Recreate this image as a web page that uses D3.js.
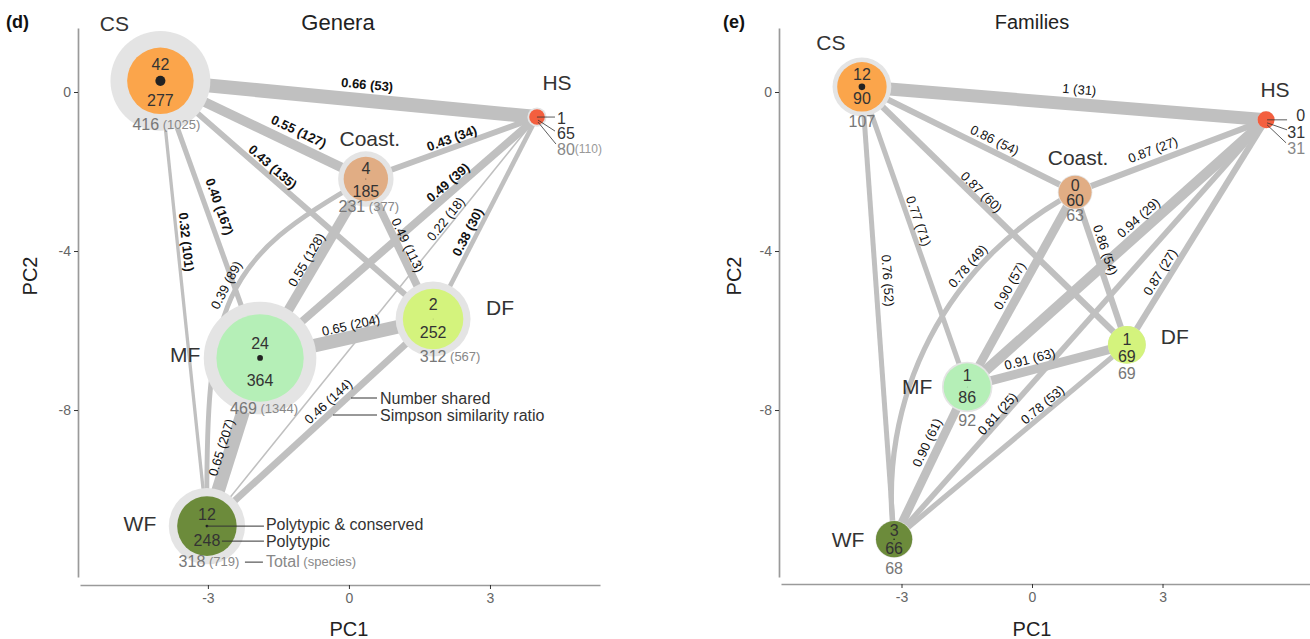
<!DOCTYPE html>
<html>
<head>
<meta charset="utf-8">
<script src="https://cdn.jsdelivr.net/npm/d3@7"></script>
<style>
  body { margin: 0; background: #fff; }
  svg text { font-family: "Liberation Sans", Arial, Helvetica, sans-serif; }
</style>
</head>
<body>
<svg id="chart" width="1310" height="639"></svg>
<script>
// --- DATA ---
const regions = ["CS", "HS", "Coast.", "DF", "MF", "WF"];

// (d) Genera
const generaPC1 = [-4.01, 4.00, 0.36, 1.79, -1.89, -3.02];
const generaPC2 = [0.28, -0.63, -2.19, -5.71, -6.69, -10.92];
const generaConserved = [42, 1, 4, 2, 24, 12];
const generaPolytypic = [277, 65, 185, 252, 364, 248];
const generaTotal = [416, 80, 231, 312, 469, 318];
const generaSpecies = [1025, 110, 377, 567, 1344, 719];

// (e) Families
const familiesPC1 = [-3.91, 5.38, 0.99, 2.18, -1.49, -3.17];
const familiesPC2 = [0.13, -0.70, -2.52, -6.36, -7.42, -11.25];
const familiesConserved = [12, 0, 0, 1, 1, 3];
const familiesPolytypic = [90, 31, 60, 69, 86, 66];
const familiesTotal = [107, 31, 63, 69, 92, 68];

// region pairs (same order in both panels)
const edgeFrom = ["CS", "CS", "CS", "CS", "CS", "Coast.", "MF", "DF", "WF", "Coast.", "MF", "MF", "WF", "WF", "Coast."];
const edgeTo   = ["HS", "Coast.", "DF", "MF", "WF", "HS", "HS", "HS", "HS", "DF", "Coast.", "DF", "DF", "MF", "WF"];

const generaRatio  = [0.66, 0.55, 0.43, 0.40, 0.32, 0.43, 0.49, 0.38, 0.22, 0.49, 0.55, 0.65, 0.46, 0.65, 0.39];
const generaShared = [53, 127, 135, 167, 101, 34, 39, 30, 18, 113, 128, 204, 144, 207, 89];
const generaBold   = [1, 1, 1, 1, 1, 1, 1, 1, 0, 0, 0, 0, 0, 0, 0];

const familiesRatio  = [1, 0.86, 0.87, 0.77, 0.76, 0.87, 0.94, 0.87, 0.81, 0.86, 0.90, 0.91, 0.78, 0.90, 0.78];
const familiesShared = [31, 54, 60, 71, 52, 27, 29, 27, 25, 54, 57, 63, 53, 61, 49];

const xTicks = [-3, 0, 3];
const yTicks = [0, -4, -8];

// --- STYLE / LAYOUT ---
const nodeColors = ["#FBA54B", "#F35F3F", "#E1AD84", "#D4F37D", "#B5EFB7", "#6C8B3B"];
const ringColor = "#E4E4E4";
const edgeColor = "#C0C0C0";
const yDomain = [-12.2, 1.61];
const yRange = [577, 28];

const svg = d3.select("#chart");

const fmtRatio = r => r === 1 ? "1" : d3.format(".2f")(r);

const generaCfg = {
  pc1: generaPC1, pc2: generaPC2,
  conserved: generaConserved, poly: generaPolytypic, total: generaTotal, species: generaSpecies,
  ratio: generaRatio, shared: generaShared, bold: generaBold,
  xDomain: [-5.72, 5.34], xRange: [80, 600], xAxisY: 585, yAxisX: 78,
  rScale: d3.scaleLinear().domain([0, 469]).range([0, 56.3]),
  wScale: d3.scalePow().exponent(2).domain([0, 0.66]).range([0, 14]),
  numSize: 16,
  nameOff: [[-46, -57], [20, -35], [4, -41], [67, -11], [-75, -3], [-67, -3]],
  numDy: [[-16, 20, 43], null, [-11, 12, 27], [-14, 14, 37], [-14, 23, 50], [-12, 14, 35]],
  totalDx: [6, 0, 3, 17, 4, 2],
  side: { x: 20, anchor: "start", dy: [1, 16, 32], lines: [[0, 0, 18, 0], [1, 3, 18, 14], [1, 5, 19, 27]] },
  edgeT: [0.545, 0.644, 0.39, 0.47, 0.364, 0.52, 0.70, 0.41, 0.74, 0.5, 0.52, 0.54, 0.566, 0.45, 0.47],
  edgeD: [16, 14, 9, 13, 9, 9, 9, 9, 7, 9, 10, 12, 10, 10, 10],
  // cubic curve: control points as [along chord, to the left of chord] fractions of chord length
  curvedEdge: 14, curve: { type: "cubic", c1: [0.352, 0.259], c2: [0.464, 0.251] },
  title: "Genera", titleX: 338, titleSize: 22, tag: "(d)", tagX: 6, yTitleX: 30
};

const familiesCfg = {
  pc1: familiesPC1, pc2: familiesPC2,
  conserved: familiesConserved, poly: familiesPolytypic, total: familiesTotal, species: null,
  ratio: familiesRatio, shared: familiesShared, bold: null,
  xDomain: [-5.77, 6.39], xRange: [781, 1310], xAxisY: 584, yAxisX: 779,
  rScale: d3.scaleLinear().domain([0, 107]).range([0, 29.4]),
  wScale: d3.scaleLinear().domain([0.76, 0.87, 0.90, 1]).range([5, 6.2, 8.6, 13]),
  numSize: 16,
  nameOff: [[-31, -44], [9, -30], [3, -35], [48, -8], [-50, 0], [-46, 0]],
  numDy: [[-12, 12, 34], null, [-7, 8, 23], [-5, 12, 28], [-11, 11, 33], [-9, 9, 29]],
  totalDx: [0, 0, 0, 0, 0, 0],
  side: { x: 39, anchor: "end", dy: [-4, 13, 28], lines: [[1, 0, 21, 0], [1, 3, 21, 10], [1, 5, 20, 23]] },
  edgeT: [0.535, 0.6, 0.43, 0.457, 0.43, 0.43, 0.6, 0.3, 0.29, 0.4, 0.49, 0.41, 0.66, 0.6, 0.31],
  edgeD: [15, 11, 8, 9, 12, 12, 12, 10, 6, 10, 12, 11, 8, 12, 9],
  curvedEdge: 14, curve: { type: "arc", k: 0.876 },
  title: "Families", titleX: null, titleSize: 20, tag: "(e)", tagX: 723, yTitleX: 734
};

function normAngle(a) {
  while (a > 90) a -= 180;
  while (a <= -90) a += 180;
  return a;
}

function drawPanel(cfg) {
  const x = d3.scaleLinear().domain(cfg.xDomain).range(cfg.xRange);
  const y = d3.scaleLinear().domain(yDomain).range(yRange);
  const g = svg.append("g");

  // --- AXES ---
  const xa = g.append("g").attr("transform", `translate(0,${cfg.xAxisY})`)
    .call(d3.axisBottom(x).tickValues(xTicks).tickFormat(d => String(d)).tickSize(4).tickSizeOuter(0).tickPadding(4));
  const ya = g.append("g").attr("transform", `translate(${cfg.yAxisX},0)`)
    .call(d3.axisLeft(y).tickValues(yTicks).tickFormat(d => String(d)).tickSize(4).tickSizeOuter(0).tickPadding(3));
  [xa, ya].forEach(a => {
    a.select(".domain").attr("stroke", "#9a9a9a").attr("stroke-width", 1.7);
    a.selectAll(".tick line").attr("stroke", "#333");
    a.selectAll(".tick text").attr("fill", "#666").style("font-size", "14px");
  });

  const x0 = x(0);
  g.append("text").attr("x", x0).attr("y", 629).attr("text-anchor", "middle")
    .attr("dominant-baseline", "central").style("font-size", "20px").attr("fill", "#222").text("PC1");
  g.append("text").attr("transform", `translate(${cfg.yTitleX},276) rotate(-90)`).attr("text-anchor", "middle")
    .attr("dominant-baseline", "central").style("font-size", "20px").attr("fill", "#222").text("PC2");
  g.append("text").attr("x", cfg.titleX == null ? x0 : cfg.titleX).attr("y", 22).attr("text-anchor", "middle")
    .attr("dominant-baseline", "central").style("font-size", cfg.titleSize + "px").attr("fill", "#222").text(cfg.title);
  g.append("text").attr("x", cfg.tagX).attr("y", 22).attr("dominant-baseline", "central")
    .style("font-size", "18px").style("font-weight", "bold").attr("fill", "#111").text(cfg.tag);

  // --- NODES (positions) ---
  const nodes = regions.map((name, i) => ({
    i, name, cx: x(cfg.pc1[i]), cy: y(cfg.pc2[i])
  }));
  const byName = n => nodes[regions.indexOf(n)];

  // --- EDGES ---
  const edges = edgeFrom.map((f, i) => ({
    i, a: byName(f), b: byName(edgeTo[i]),
    ratio: cfg.ratio[i], shared: cfg.shared[i],
    bold: cfg.bold ? cfg.bold[i] : 0,
    t: cfg.edgeT[i], d: cfg.edgeD[i], curved: i === cfg.curvedEdge
  }));

  edges.forEach(e => {
    const P0 = [e.a.cx, e.a.cy], P1 = [e.b.cx, e.b.cy];
    const dx = P1[0] - P0[0], dy = P1[1] - P0[1];
    const L = Math.hypot(dx, dy);
    const ux = dx / L, uy = dy / L;
    let px, py, ang;
    if (!e.curved) {
      e.path = `M${P0[0]},${P0[1]}L${P1[0]},${P1[1]}`;
      px = P0[0] + e.t * dx;
      py = P0[1] + e.t * dy;
      ang = normAngle(Math.atan2(dy, dx) * 180 / Math.PI);
    } else if (cfg.curve.type === "cubic") {
      // normal pointing to the outer (left) side of the chord
      const lx = -uy, ly = ux;
      const cp = c => [P0[0] + L * (c[0] * ux + c[1] * lx), P0[1] + L * (c[0] * uy + c[1] * ly)];
      const C1 = cp(cfg.curve.c1), C2 = cp(cfg.curve.c2);
      e.path = `M${P0[0]},${P0[1]}C${C1[0]},${C1[1]} ${C2[0]},${C2[1]} ${P1[0]},${P1[1]}`;
      const t = e.t, s = 1 - t;
      const b = [s * s * s, 3 * s * s * t, 3 * s * t * t, t * t * t];
      px = b[0] * P0[0] + b[1] * C1[0] + b[2] * C2[0] + b[3] * P1[0];
      py = b[0] * P0[1] + b[1] * C1[1] + b[2] * C2[1] + b[3] * P1[1];
      const tx = 3 * s * s * (C1[0] - P0[0]) + 6 * s * t * (C2[0] - C1[0]) + 3 * t * t * (P1[0] - C2[0]);
      const ty = 3 * s * s * (C1[1] - P0[1]) + 6 * s * t * (C2[1] - C1[1]) + 3 * t * t * (P1[1] - C2[1]);
      ang = normAngle(Math.atan2(ty, tx) * 180 / Math.PI);
    } else {
      const r = cfg.curve.k * L;
      const h = Math.sqrt(r * r - (L / 2) * (L / 2));
      const C = [(P0[0] + P1[0]) / 2 + h * uy, (P0[1] + P1[1]) / 2 - h * ux];
      e.path = `M${P0[0]},${P0[1]}A${r},${r} 0 0 0 ${P1[0]},${P1[1]}`;
      const a0 = Math.atan2(P0[1] - C[1], P0[0] - C[0]);
      const a1 = Math.atan2(P1[1] - C[1], P1[0] - C[0]);
      let delta = a1 - a0;
      while (delta > Math.PI) delta -= 2 * Math.PI;
      while (delta <= -Math.PI) delta += 2 * Math.PI;
      const th = a0 + e.t * delta;
      px = C[0] + r * Math.cos(th);
      py = C[1] + r * Math.sin(th);
      ang = normAngle(th * 180 / Math.PI + 90);
    }
    const rad = ang * Math.PI / 180;
    e.lx = px + e.d * Math.sin(rad);
    e.ly = py - e.d * Math.cos(rad);
    e.ang = ang;
  });

  g.append("g").selectAll("path").data(edges).join("path")
    .attr("d", e => e.path)
    .attr("fill", "none")
    .attr("stroke", edgeColor)
    .attr("stroke-width", e => cfg.wScale(e.ratio));

  // --- NODE CIRCLES ---
  const ng = g.append("g").selectAll("g").data(nodes).join("g")
    .attr("transform", n => `translate(${n.cx},${n.cy})`);
  ng.append("circle").attr("r", n => cfg.rScale(cfg.total[n.i])).attr("fill", ringColor);
  ng.append("circle").attr("r", n => cfg.rScale(cfg.poly[n.i])).attr("fill", n => nodeColors[n.i]);
  ng.append("circle").attr("r", n => cfg.rScale(cfg.conserved[n.i])).attr("fill", "#222");

  // --- EDGE LABELS ---
  g.append("g").selectAll("text").data(edges).join("text")
    .attr("transform", e => `translate(${e.lx},${e.ly}) rotate(${e.ang})`)
    .attr("text-anchor", "middle")
    .attr("dominant-baseline", "central")
    .style("font-size", "13px")
    .style("font-weight", e => e.bold ? "bold" : "normal")
    .attr("fill", "#111")
    .text(e => `${fmtRatio(e.ratio)} (${e.shared})`);

  // --- NODE LABELS ---
  nodes.forEach(n => {
    const i = n.i;
    g.append("text")
      .attr("x", n.cx + cfg.nameOff[i][0]).attr("y", n.cy + cfg.nameOff[i][1])
      .attr("text-anchor", "middle").attr("dominant-baseline", "central")
      .style("font-size", "21px").attr("fill", "#333").text(n.name);

    const numDy = cfg.numDy[i];
    if (numDy) {
      g.append("text").attr("x", n.cx).attr("y", n.cy + numDy[0])
        .attr("text-anchor", "middle").attr("dominant-baseline", "central")
        .style("font-size", cfg.numSize + "px").attr("fill", "#333").text(cfg.conserved[i]);
      g.append("text").attr("x", n.cx).attr("y", n.cy + numDy[1])
        .attr("text-anchor", "middle").attr("dominant-baseline", "central")
        .style("font-size", cfg.numSize + "px").attr("fill", "#333").text(cfg.poly[i]);
      const tt = g.append("text").attr("x", n.cx + cfg.totalDx[i]).attr("y", n.cy + numDy[2])
        .attr("text-anchor", "middle").attr("dominant-baseline", "central").attr("fill", "#777");
      tt.append("tspan").style("font-size", cfg.numSize + "px").text(cfg.total[i]);
      if (cfg.species) tt.append("tspan").style("font-size", "13px").attr("fill", "#888").text(` (${cfg.species[i]})`);
    } else {
      // small node: labels to the side with leader lines
      const s = cfg.side;
      s.lines.forEach(l => {
        g.append("line").attr("x1", n.cx + l[0]).attr("y1", n.cy + l[1])
          .attr("x2", n.cx + l[2]).attr("y2", n.cy + l[3])
          .attr("stroke", "#333").attr("stroke-width", 0.8);
      });
      const vals = [cfg.conserved[i], cfg.poly[i]];
      vals.forEach((v, k) => {
        g.append("text").attr("x", n.cx + s.x).attr("y", n.cy + s.dy[k])
          .attr("text-anchor", s.anchor).attr("dominant-baseline", "central")
          .style("font-size", cfg.numSize + "px").attr("fill", "#333").text(v);
      });
      const tt = g.append("text").attr("x", n.cx + s.x).attr("y", n.cy + s.dy[2])
        .attr("text-anchor", s.anchor).attr("dominant-baseline", "central").attr("fill", "#888");
      tt.append("tspan").style("font-size", cfg.numSize + "px").text(cfg.total[i]);
      if (cfg.species) tt.append("tspan").style("font-size", "12px").attr("fill", "#999").text(`(${cfg.species[i]})`);
    }
  });

  return { g, byName };
}

const d = drawPanel(generaCfg);
drawPanel(familiesCfg);

// --- KEY ANNOTATIONS (panel d) ---
const wf = d.byName("WF");
const keyRows = [
  { line: [0, 0, 57, 0], ty: -2, label: "Polytypic & conserved", col: "#333" },
  { line: [15, 15, 57, 15], ty: 15, label: "Polytypic", col: "#333" },
  { line: [38, 36, 56, 36], ty: 35, label: "Total", extra: " (species)", col: "#888" }
];
keyRows.forEach(k => {
  d.g.append("line").attr("x1", wf.cx + k.line[0]).attr("y1", wf.cy + k.line[1])
    .attr("x2", wf.cx + k.line[2]).attr("y2", wf.cy + k.line[3]).attr("stroke", "#333").attr("stroke-width", 1);
  const t = d.g.append("text").attr("x", wf.cx + 59).attr("y", wf.cy + k.ty)
    .attr("dominant-baseline", "central").style("font-size", "16px").attr("fill", k.col);
  t.append("tspan").text(k.label);
  if (k.extra) t.append("tspan").style("font-size", "13px").text(k.extra);
});

const edgeKey = [
  { x1: 351, y: 398, label: "Number shared" },
  { x1: 333, y: 415, label: "Simpson similarity ratio" }
];
edgeKey.forEach(k => {
  d.g.append("line").attr("x1", k.x1).attr("y1", k.y).attr("x2", 377).attr("y2", k.y)
    .attr("stroke", "#333").attr("stroke-width", 1);
  d.g.append("text").attr("x", 380).attr("y", k.y).attr("dominant-baseline", "central")
    .style("font-size", "16px").attr("fill", "#333").text(k.label);
});
</script>
</body>
</html>
